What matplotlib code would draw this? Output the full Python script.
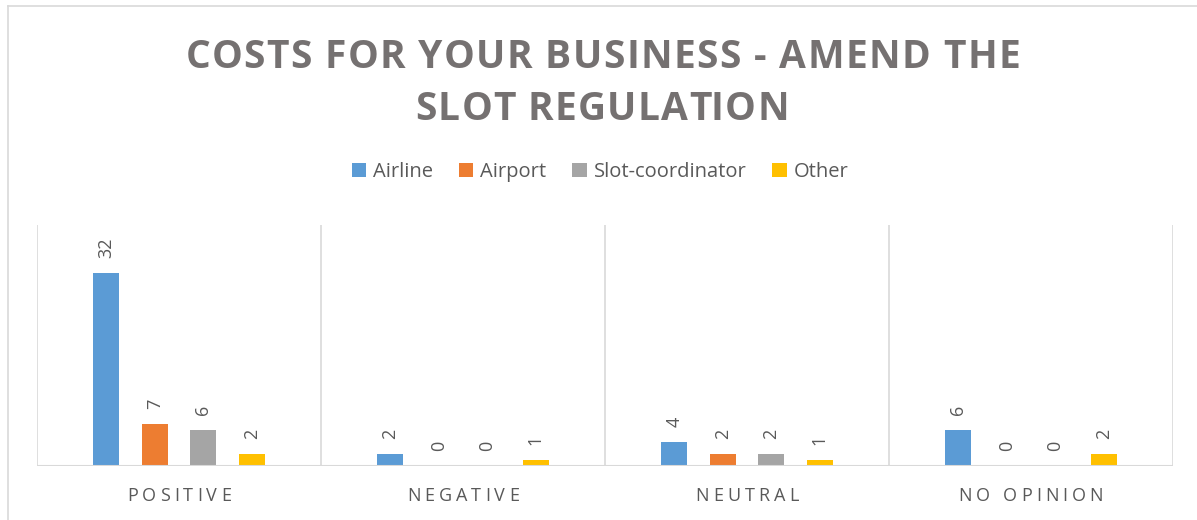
"""
Recreate the 'Costs for your business - amend the slot regulation' bar chart.
"""

import matplotlib
import matplotlib.pyplot as plt
from matplotlib.font_manager import FontProperties
from matplotlib.patches import Patch
from matplotlib.textpath import TextToPath

matplotlib.use("Agg")

categories = ["POSITIVE", "NEGATIVE", "NEUTRAL", "NO OPINION"]
series_names = ["Airline", "Airport", "Slot-coordinator", "Other"]
airline = [32, 2, 4, 6]
airport = [7, 0, 2, 0]
slot_coordinator = [6, 0, 2, 0]
other = [2, 1, 1, 2]
title_lines = ["COSTS FOR YOUR BUSINESS - AMEND THE", "SLOT REGULATION"]

colors = ["#5B9BD5", "#ED7D31", "#A5A5A5", "#FFC000"]
TEXT_GREY = "#595959"
TITLE_GREY = "#757171"
LINE_GREY = "#D9D9D9"

W, H, DPI = 1197, 520, 100
_t2p = TextToPath()


def text_width_px(s, prop):
    """Advance width of s in pixels (trailing spaces counted via a marker)."""
    w, _, _ = _t2p.get_text_width_height_descent(s + "|", prop, ismath=False)
    m, _, _ = _t2p.get_text_width_height_descent("|", prop, ismath=False)
    return (w - m) * DPI / 72.0


def spaced_text(fig, s, cx, cy, prop, spacing, color):
    """Draw s centred at pixel (cx, cy from top) with extra letter spacing."""
    total = text_width_px(s, prop) + spacing * (len(s) - 1)
    x0 = cx - total / 2.0
    for i, ch in enumerate(s):
        if ch == " ":
            continue
        x = x0 + text_width_px(s[:i], prop) + spacing * i
        fig.text(x / W, 1 - cy / H, ch, fontproperties=prop, color=color,
                 ha="left", va="center_baseline")


def plot_chart():
    fig = plt.figure(figsize=(W / DPI, H / DPI), dpi=DPI)

    # chart border (only left and top edges are visible in the crop)
    fig.add_artist(plt.Line2D([8 / W, 8 / W], [1 - 6 / H, 0], color=LINE_GREY,
                              lw=1.2, transform=fig.transFigure))
    fig.add_artist(plt.Line2D([8 / W, 1], [1 - 6 / H, 1 - 6 / H], color=LINE_GREY,
                              lw=1.2, transform=fig.transFigure))

    # title
    title_prop = FontProperties(family="Open Sans", weight="bold", size=28)
    spaced_text(fig, title_lines[0], 603, 53, title_prop, 1.4, TITLE_GREY)
    spaced_text(fig, title_lines[1], 602, 105, title_prop, 1.4, TITLE_GREY)

    ax = fig.add_axes([37 / W, 54 / H, 1136 / W, 241 / H])
    values = [airline, airport, slot_coordinator, other]
    n = len(categories)
    width = 0.0915
    pitch = 0.171
    for k, (vals, col) in enumerate(zip(values, colors)):
        xs = [i + (k - 1.5) * pitch for i in range(n)]
        bars = ax.bar(xs, vals, width=width, color=col, zorder=3)
        for b, v in zip(bars, vals):
            ax.annotate(str(v), (b.get_x() + b.get_width() / 2, v),
                        xytext=(0, 11), textcoords="offset points",
                        rotation=90, ha="center", va="bottom",
                        fontsize=13, color=TEXT_GREY, family="Open Sans")

    ax.set_xlim(-0.5, n - 0.5)
    ax.set_ylim(0, 40)
    for xv in [i - 0.5 for i in range(n + 1)]:
        ax.axvline(xv, color=LINE_GREY, lw=1.2, zorder=1)
    ax.axhline(0, color=LINE_GREY, lw=1.5, zorder=4)
    for s in ax.spines.values():
        s.set_visible(False)
    ax.set_xticks([])
    ax.set_yticks([])

    # category labels with letter spacing
    cat_prop = FontProperties(family="Open Sans", size=13)
    for i, c in enumerate(categories):
        cx = 37 + 284 * (i + 0.5)
        spaced_text(fig, c, cx, 494, cat_prop, 4.0, TEXT_GREY)

    handles = [Patch(facecolor=c, edgecolor="none") for c in colors]
    fig.legend(handles, series_names, loc="center", ncol=4, frameon=False,
               bbox_to_anchor=(600 / W, 1 - 172 / H), handlelength=0.7,
               handleheight=0.7, handletextpad=0.35, columnspacing=1.3,
               prop=FontProperties(family="Open Sans", size=14.5),
               labelcolor=TEXT_GREY)

    fig.savefig("out.png", dpi=DPI)


if __name__ == "__main__":
    plot_chart()
